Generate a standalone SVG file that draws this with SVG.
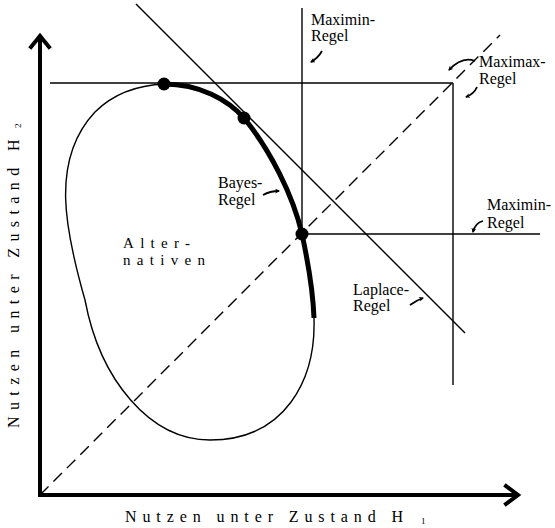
<svg xmlns="http://www.w3.org/2000/svg" width="555" height="528" viewBox="0 0 555 528" font-family="'Liberation Serif', 'DejaVu Serif', serif">
<style>
text{fill:#000}
.lbl{font-size:16px}
.alt{font-size:15px;letter-spacing:6.3px}
.ax{font-size:16px;letter-spacing:5.9px}
.sub{font-size:9px;letter-spacing:0}
.thin{fill:none;stroke:#000;stroke-width:1.4}
.axis{fill:none;stroke:#000;stroke-width:4;stroke-linecap:square}
.arr{fill:none;stroke:#000;stroke-width:1.8;marker-end:url(#ah)}
</style>
<defs>
<marker id="ah" viewBox="0 0 10 10" refX="8" refY="5" markerWidth="5" markerHeight="5" orient="auto" markerUnits="userSpaceOnUse">
<path d="M0,0 L10,5 L0,10 L3,5 Z" fill="#000"/>
</marker>
</defs>
<g id="connectors">
<line class="axis" x1="40" y1="495" x2="40" y2="38"/>
<polyline class="axis" points="31,47 40,36 49,47" stroke-linejoin="miter" stroke-linecap="round"/>
<line class="axis" x1="40" y1="495" x2="516" y2="495"/>
<polyline class="axis" points="506,486 518,495 506,504" stroke-linejoin="miter" stroke-linecap="round"/>
<line class="thin" x1="40" y1="495" x2="500" y2="35" stroke-dasharray="12,7"/>
<line class="thin" x1="50" y1="83" x2="453" y2="83" stroke-width="1.6"/>
<line class="thin" x1="453" y1="83" x2="453" y2="385" stroke-width="1.6"/>
<line class="thin" x1="302" y1="8" x2="302" y2="234"/>
<line class="thin" x1="302" y1="234" x2="540" y2="234"/>
<line class="thin" x1="136" y1="4" x2="465" y2="333" stroke-width="1.3"/>
</g>
<g id="alternativen">
<path class="thin" d="M314,318 C316,380 285,440 210,440 C150,440 100,380 85,300 C65,230 50,160 95,112 C115,92 140,85 165,84 C200,84 230,100 244,118 C270,150 293,195 302,234 C308,262 313,290 314,318 Z"/>
<path d="M164,84 C200,84 228,100 244,118 C270,150 293,195 302,234 C308,262 313,290 314,318" fill="none" stroke="#000" stroke-width="5"/>
<circle cx="164" cy="84" r="6.5"/>
<circle cx="244" cy="118" r="6.5"/>
<circle cx="302" cy="234" r="6.5"/>
<text class="alt" x="123" y="248">Alter-</text>
<text class="alt" x="123" y="265">nativen</text>
</g>
<g id="maximin-top">
<text class="lbl" x="311" y="25">Maximin-</text>
<text class="lbl" x="311" y="41">Regel</text>
<path class="arr" d="M322,51 Q318,58 311,62"/>
</g>
<g id="maximax">
<text class="lbl" x="479" y="67">Maximax-</text>
<text class="lbl" x="479" y="84">Regel</text>
<path class="arr" d="M475,61 Q462,56 449,70"/>
<path class="arr" d="M477,87 Q474,94 466,97"/>
</g>
<g id="bayes">
<text class="lbl" x="218" y="188">Bayes-</text>
<text class="lbl" x="218" y="205">Regel</text>
<path class="arr" d="M263,195 Q270,191 279,191"/>
</g>
<g id="maximin-right">
<text class="lbl" x="487" y="210">Maximin-</text>
<text class="lbl" x="487" y="228">Regel</text>
<path class="arr" d="M483,221 Q475,223 473,232"/>
</g>
<g id="laplace">
<text class="lbl" x="353" y="295">Laplace-</text>
<text class="lbl" x="353" y="311">Regel</text>
<path class="arr" d="M410,305 Q417,300 423,298"/>
</g>
<g id="axis-labels">
<text class="ax" x="125" y="522">Nutzen unter Zustand H<tspan class="sub" dx="12" dy="2">1</tspan></text>
<text class="ax" transform="translate(19,428) rotate(-90)" x="0" y="0" style="letter-spacing:6.4px">Nutzen unter Zustand H<tspan class="sub" dx="5" dy="2">2</tspan></text>
</g>
</svg>
